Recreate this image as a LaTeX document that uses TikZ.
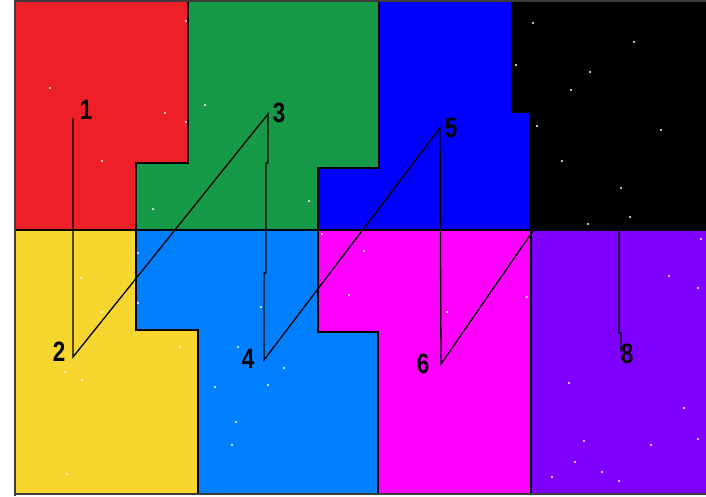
\documentclass[tikz,border=0pt]{standalone}
\usepackage{fontspec}
\setmainfont{Liberation Sans}
\definecolor{cRed}{RGB}{237,32,40}
\definecolor{cGreen}{RGB}{22,154,72}
\definecolor{cBlue}{RGB}{0,0,255}
\definecolor{cYellow}{RGB}{247,214,47}
\definecolor{cSky}{RGB}{0,128,255}
\definecolor{cMag}{RGB}{255,0,255}
\definecolor{cPurple}{RGB}{127,0,255}
\definecolor{cFrame}{RGB}{60,60,60}
\begin{document}
\begin{tikzpicture}[x=1pt,y=-1pt,
  region/.style={draw=black,line width=1.5pt,line join=miter},
  lbl/.style={font=\bfseries\fontsize{28}{28}\selectfont,inner sep=0pt,xscale=0.8},
  link/.style={draw=black,line width=1.3pt},
  star/.style={fill=white,draw=none}]
\useasboundingbox (0,0) rectangle (706,496);
\fill[white] (0,0) rectangle (706,496);
% top row
\filldraw[region,fill=cRed] (15,1) -- (188,1) -- (188,163) -- (136,163) -- (136,230) -- (15,230) -- cycle;
\filldraw[region,fill=cGreen] (188,1) -- (379,1) -- (379,168) -- (318,168) -- (318,230) -- (136,230) -- (136,163) -- (188,163) -- cycle;
\filldraw[region,fill=cBlue] (379,1) -- (512,1) -- (512,112) -- (530,112) -- (530,230) -- (318,230) -- (318,168) -- (379,168) -- cycle;
\filldraw[region,fill=black] (512,1) -- (708,1) -- (708,230) -- (530,230) -- (530,112) -- (512,112) -- cycle;
% bottom row
\filldraw[region,fill=cYellow] (15,230) -- (136,230) -- (136,330) -- (198,330) -- (198,494) -- (15,494) -- cycle;
\filldraw[region,fill=cSky] (136,230) -- (318,230) -- (318,332) -- (378,332) -- (378,494) -- (198,494) -- (198,330) -- (136,330) -- cycle;
\filldraw[region,fill=cMag] (318,230) -- (531,230) -- (531,494) -- (378,494) -- (378,332) -- (318,332) -- cycle;
\filldraw[region,fill=cPurple] (531,230) -- (708,230) -- (708,494) -- (531,494) -- cycle;
\draw[cFrame,line width=1.5pt] (15,496) -- (15,1) -- (706,1);
\draw[cFrame,line width=1.5pt] (15,494) -- (706,494);
% stars
\foreach \p in {(186,21),(50,88),(205,105),(165,113),(186,122),(102,161),(153,209),(309,201),(322,234),
  (533,23),(634,42),(516,65),(590,72),(571,90),(537,126),(661,130),(562,161),(621,188),(630,217),(588,224),(701,239),
  (138,253),(81,278),(138,303),(102,312),(180,347),(238,347),(65,372),(82,380),(284,368),(268,385),(215,387),(261,307),(236,422),(232,445),(67,474),(349,295),
  (364,251),(447,312),(527,297),(669,276),(698,288),(569,383),(684,408),(584,441),(651,445),(698,439),(575,462),(602,472),(552,477),(619,481)}
  \fill[star] \p circle (1.1);
% connector points
\coordinate (p1) at (73,118);
\coordinate (p2) at (73,357);
\coordinate (p3) at (268,114);
\coordinate (p4) at (264,360);
\coordinate (p5) at (440,128);
\coordinate (p6) at (441,364);
\coordinate (p7) at (535,228);
\coordinate (p7b) at (619,228);
\coordinate (p8) at (621,352);
\draw[link] (p1) -- (p2) -- (p3) -- (268,163) -- (266,163) -- (266,273) -- (264,273) -- (p4) -- (p5) -- (p6) -- (p7) -- (p7b) -- (619,333) -- (621,333) -- (p8);
% labels
\node[lbl] (n1) at (86,110) {1};
\node[lbl] (n2) at (59,352) {2};
\node[lbl] (n3) at (279,113) {3};
\node[lbl] (n4) at (248,359) {4};
\node[lbl] (n5) at (451,128) {5};
\node[lbl] (n6) at (423,364) {6};
\node[lbl] (n8) at (627,354) {8};
\end{tikzpicture}
\end{document}
